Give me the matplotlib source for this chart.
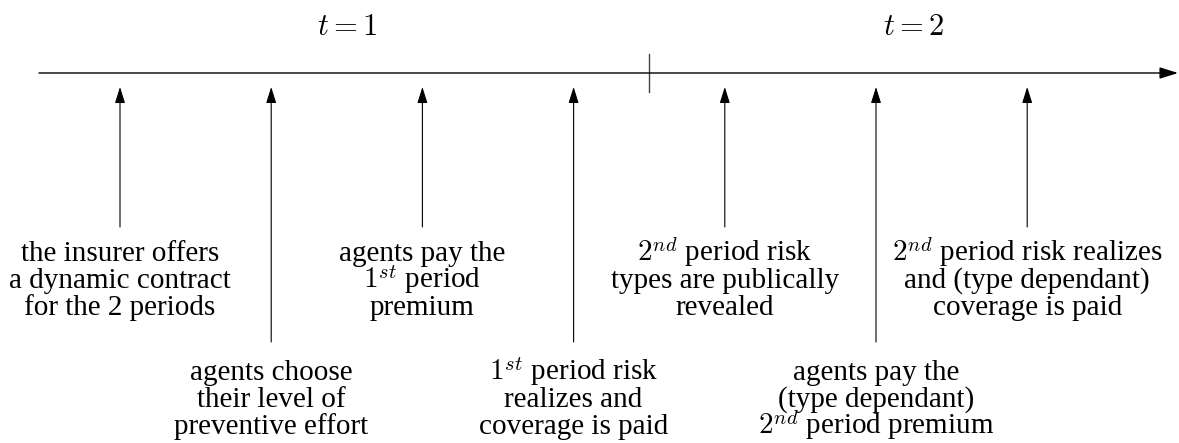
# Timeline of the two-period insurance game
import matplotlib.pyplot as plt
import matplotlib._mathtext as mt

plt.rcParams['font.family'] = ['Liberation Serif', 'DejaVu Serif']
plt.rcParams['mathtext.fontset'] = 'cm'
# lower the superscripts a bit, closer to LaTeX's ordinal look
mt.ComputerModernFontConstants.sup1 = 0.38

# ============================================================================
# DATA
# ============================================================================
# event slots along the timeline (0..6), period divider between slot 3 and 4
event_pos = [0, 1, 2, 3, 4, 5, 6]
event_row = ['top', 'bottom', 'top', 'bottom', 'top', 'bottom', 'top']
event_text = [
    ['the insurer offers', 'a dynamic contract', 'for the 2 periods'],
    ['agents choose', 'their level of', 'preventive effort'],
    ['agents pay the', r'$1^{st}$ period', 'premium'],
    [r'$1^{st}$ period risk', 'realizes and', 'coverage is paid'],
    [r'$2^{nd}$ period risk', 'types are publically', 'revealed'],
    ['agents pay the', '(type dependant)', r'$2^{nd}$ period premium'],
    [r'$2^{nd}$ period risk realizes', 'and (type dependant)', 'coverage is paid'],
]
divider_pos = 3.5
period_labels = [r'$t=1$', r'$t=2$']
period_label_pos = [1.5, 5.25]

# ============================================================================
# LAYOUT (pixel-like vertical coordinates, y grows downward)
# ============================================================================
W, H = 1179, 443
slot_px = 151.2
x0_px = 120
line_y = 73
head_y = 87
tail_y = {'top': 227, 'bottom': 342}
first_baseline = {'top': 261, 'bottom': 380}
pitch = 27
fs = 21

fig = plt.figure(figsize=(W / 100, H / 100), dpi=100)
ax = fig.add_axes([0, 0, 1, 1])
ax.set_xlim(-x0_px / slot_px, (W - x0_px) / slot_px)
ax.set_ylim(H, 0)
ax.axis('off')

# main time axis
left = (39 - x0_px) / slot_px
right = (W - 1 - x0_px) / slot_px
ax.annotate('', xy=(right, line_y), xytext=(left, line_y),
            arrowprops=dict(arrowstyle='-|>,head_length=0.7,head_width=0.22',
                            mutation_scale=16, lw=1.0, color='black',
                            shrinkA=0, shrinkB=0))

# period divider
ax.plot([divider_pos, divider_pos], [54, 92], color='#444444', lw=1.0)

for lab, p in zip(period_labels, period_label_pos):
    ax.text(p, 27, lab, fontsize=fs + 1, ha='center', va='center')

# events
for p, row, lines in zip(event_pos, event_row, event_text):
    ax.annotate('', xy=(p, head_y), xytext=(p, tail_y[row]),
                arrowprops=dict(arrowstyle='-|>,head_length=0.7,head_width=0.22',
                                mutation_scale=14, lw=0.8, color='black',
                                shrinkA=0, shrinkB=0))
    for k, s in enumerate(lines):
        ax.text(p, first_baseline[row] + k * pitch, s, fontsize=fs,
                ha='center', va='baseline')

fig.savefig('out.png', dpi=100)
